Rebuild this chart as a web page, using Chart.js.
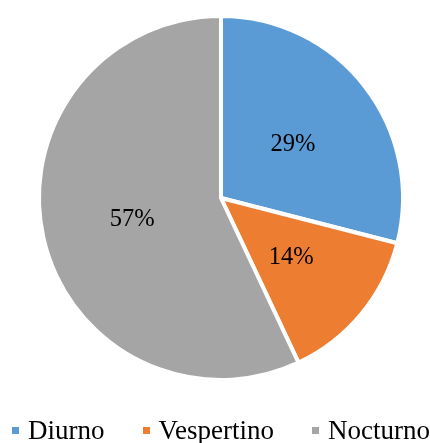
<!DOCTYPE html>
<html>
<head>
<meta charset="utf-8">
<script src="https://cdn.jsdelivr.net/npm/chart.js@4/dist/chart.umd.min.js"></script>
<style>
html,body{margin:0;padding:0;background:#fff;}
#wrap{position:relative;width:430px;height:443px;}
#c{position:absolute;left:0;top:0;}
#legend{position:absolute;left:12px;top:417px;display:flex;align-items:center;font-family:"Liberation Serif","Times New Roman",serif;font-size:27px;line-height:27px;color:#000;white-space:nowrap;}
.item{display:flex;align-items:center;margin-right:38px;}
.sw{width:7px;height:7px;margin-right:9px;}
</style>
</head>
<body>
<div id="wrap">
<canvas id="c" width="430" height="443"></canvas>
<div id="legend"></div>
</div>
<script>
const categories = ["Diurno", "Vespertino", "Nocturno"];
const values = [29, 14, 57];
const percentLabels = ["29%", "14%", "57%"];
const colors = ["#5B9BD5", "#ED7D31", "#A5A5A5"];

const labelPlugin = {
  id: 'sliceLabels',
  afterDatasetsDraw(chart) {
    const ctx = chart.ctx;
    const meta = chart.getDatasetMeta(0);
    ctx.save();
    ctx.font = '24.5px "Liberation Serif", "Times New Roman", serif';
    ctx.fillStyle = '#000';
    ctx.textAlign = 'center';
    ctx.textBaseline = 'middle';
    meta.data.forEach((arc, i) => {
      const p = arc.getCenterPoint();
      ctx.fillText(percentLabels[i], p.x, p.y + 2);
    });
    ctx.restore();
  }
};

new Chart(document.getElementById('c'), {
  type: 'pie',
  data: {
    labels: categories,
    datasets: [{
      data: values,
      backgroundColor: colors,
      borderColor: '#ffffff',
      borderWidth: 4
    }]
  },
  options: {
    responsive: false,
    animation: false,
    devicePixelRatio: 1,
    layout: { padding: { left: 37, right: 25, top: 14, bottom: 61 } },
    plugins: {
      legend: { display: false },
      tooltip: { enabled: false }
    }
  },
  plugins: [labelPlugin]
});

const lg = document.getElementById('legend');
categories.forEach((name, i) => {
  const it = document.createElement('div');
  it.className = 'item';
  const sw = document.createElement('span');
  sw.className = 'sw';
  sw.style.background = colors[i];
  const tx = document.createElement('span');
  tx.textContent = name;
  it.appendChild(sw);
  it.appendChild(tx);
  lg.appendChild(it);
});
</script>
</body>
</html>
